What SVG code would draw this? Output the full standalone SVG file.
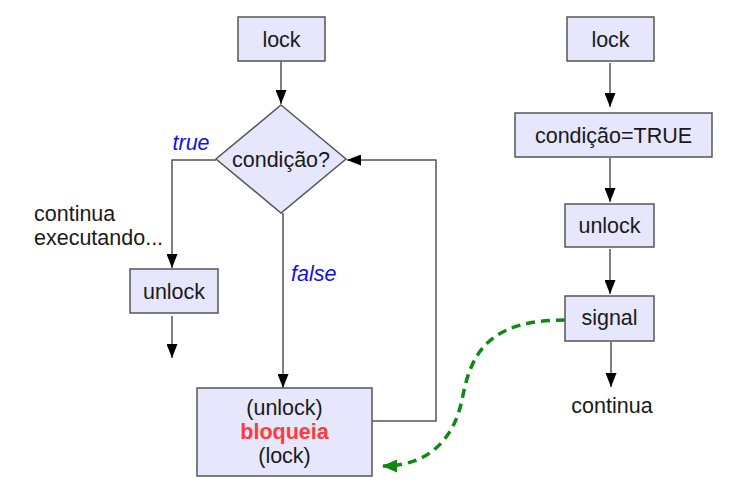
<svg xmlns="http://www.w3.org/2000/svg" width="749" height="491" viewBox="0 0 749 491">
<style>
.box{fill:#e6e6fc;stroke:#555;stroke-width:1.5}
.t{font-family:"Liberation Sans",Arial,sans-serif;font-size:21.5px;fill:#1a1a1a}
.c{text-anchor:middle}
.lbl{font-family:"Liberation Sans",Arial,sans-serif;font-size:21.5px;fill:#1010ee;font-style:italic}
.ln{fill:none;stroke:#555;stroke-width:1.5}
</style>
<defs>
<marker id="ah" markerUnits="userSpaceOnUse" markerWidth="14" markerHeight="11" refX="14" refY="5.5" orient="auto">
<path d="M0,0 L14,5.5 L0,11 z" fill="#000"/>
</marker>
<marker id="gh" markerUnits="userSpaceOnUse" markerWidth="15" markerHeight="13" refX="14" refY="6.5" orient="auto">
<path d="M0,0 L15,6.5 L0,13 z" fill="#118811"/>
</marker>
</defs>
<rect width="749" height="491" fill="#fff"/>
<g id="connectors">
<line class="ln" x1="281" y1="61" x2="281" y2="104" marker-end="url(#ah)"/>
<polyline class="ln" points="216,160 172,160 172,268" marker-end="url(#ah)"/>
<line class="ln" x1="172" y1="316" x2="172" y2="358" marker-end="url(#ah)"/>
<line class="ln" x1="283" y1="213" x2="283" y2="388" marker-end="url(#ah)"/>
<polyline class="ln" points="372,421 436,421 436,160 347,160" marker-end="url(#ah)"/>
<line class="ln" x1="610" y1="63" x2="610" y2="107" marker-end="url(#ah)"/>
<line class="ln" x1="610" y1="158" x2="610" y2="202" marker-end="url(#ah)"/>
<line class="ln" x1="610" y1="249" x2="610" y2="294" marker-end="url(#ah)"/>
<line class="ln" x1="611" y1="342" x2="611" y2="387" marker-end="url(#ah)"/>
<path d="M565,320 C492,320 472,350 463,395 C455,440 428,466 383,466" fill="none" stroke="#118811" stroke-width="3.5" stroke-dasharray="9,6" marker-end="url(#gh)"/>
</g>
<g id="lock1"><rect class="box" x="238" y="17" width="87" height="44"/><text class="t c" x="281.5" y="46.5">lock</text></g>
<g id="cond"><polygon class="box" points="281,105 346,159 281,213 216,159"/><text class="t c" x="281" y="166.5">condição?</text></g>
<g id="trueLbl"><text class="lbl" x="172.5" y="150">true</text></g>
<g id="falseLbl"><text class="lbl" x="291" y="281">false</text></g>
<g id="cont1"><text class="t" x="34" y="221">continua</text><text class="t" x="34" y="245">executando...</text></g>
<g id="unlock1"><rect class="box" x="130" y="269" width="88" height="44"/><text class="t c" x="174" y="298.5">unlock</text></g>
<g id="bloq"><rect class="box" x="197" y="388" width="175" height="88"/>
<text class="t c" x="284.5" y="415">(unlock)</text>
<text class="t c" x="284.5" y="439" style="fill:#ff3b3b;font-weight:bold">bloqueia</text>
<text class="t c" x="284.5" y="463">(lock)</text></g>
<g id="lock2"><rect class="box" x="567" y="17" width="87" height="44"/><text class="t c" x="610.5" y="46.5">lock</text></g>
<g id="setc"><rect class="box" x="515" y="113" width="197" height="44"/><text class="t c" x="613.5" y="142.5">condição=TRUE</text></g>
<g id="unlock2"><rect class="box" x="565" y="204" width="89" height="43"/><text class="t c" x="609.5" y="233">unlock</text></g>
<g id="signal"><rect class="box" x="565" y="296" width="89" height="45"/><text class="t c" x="609.5" y="325">signal</text></g>
<g id="cont2"><text class="t c" x="612" y="413">continua</text></g>
</svg>
